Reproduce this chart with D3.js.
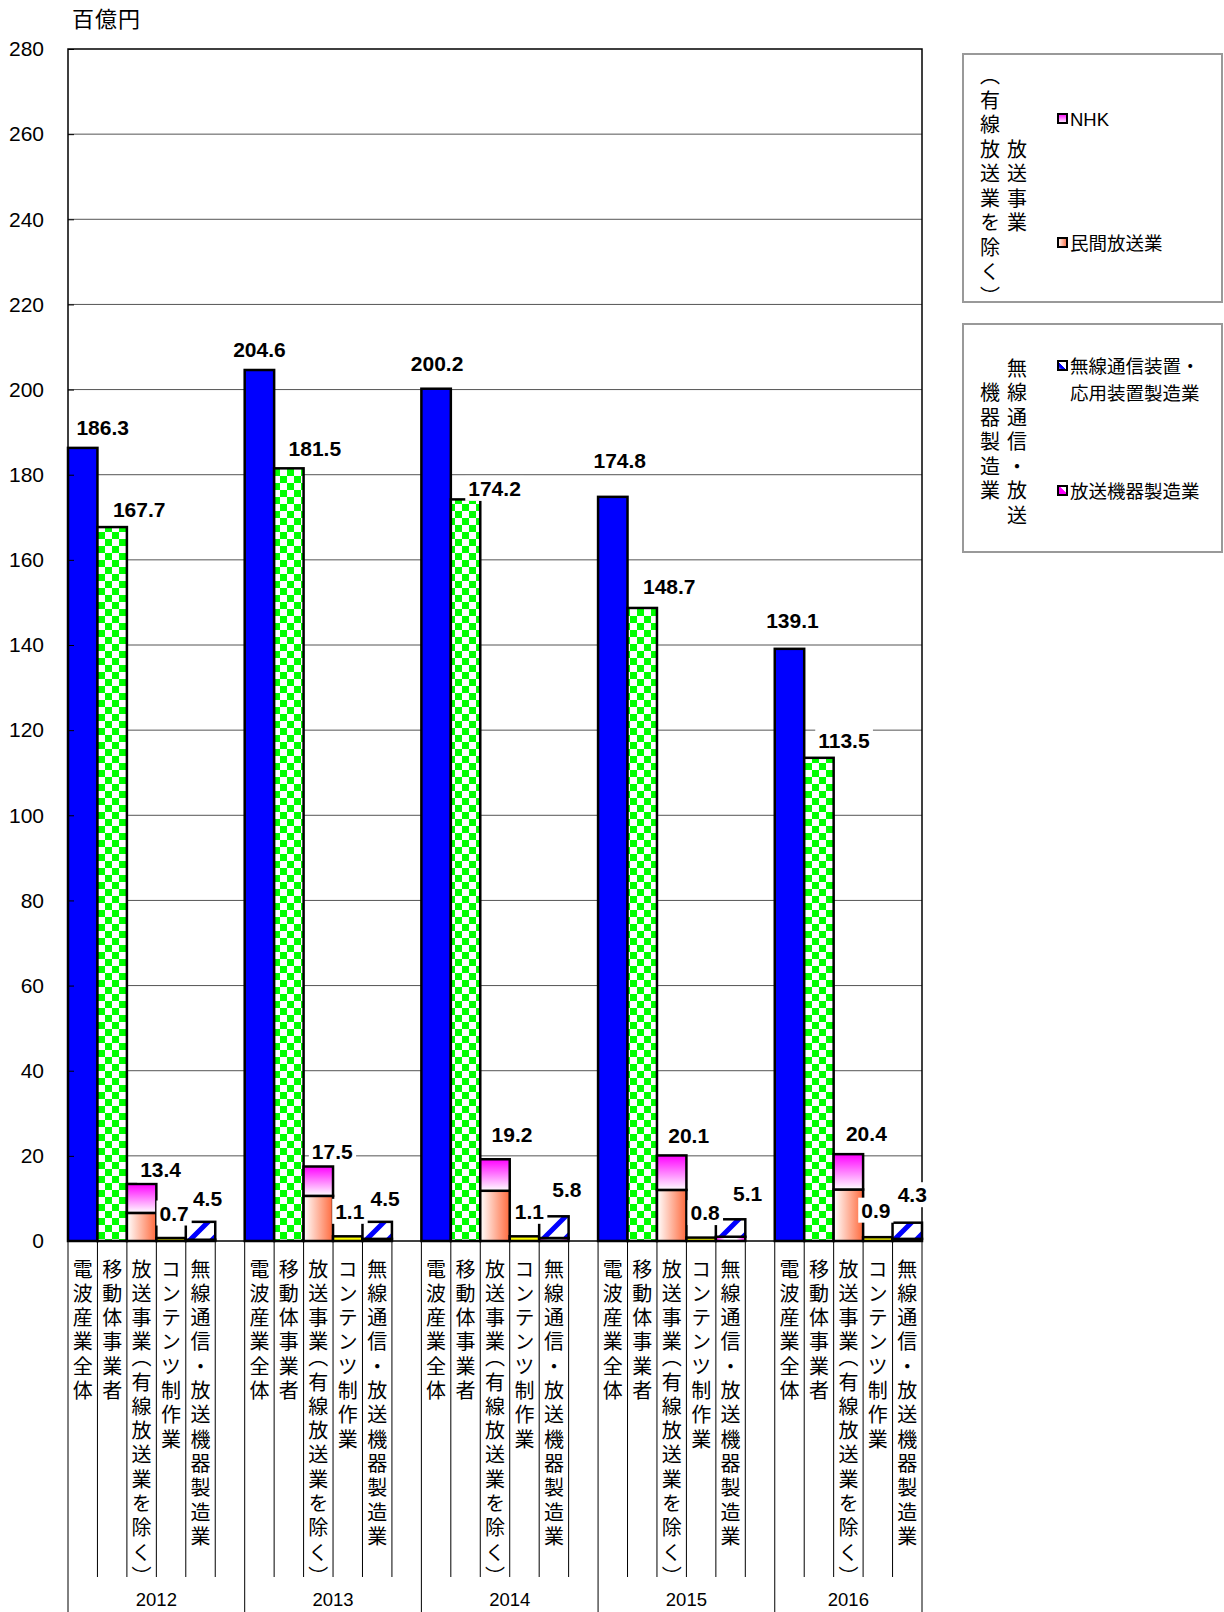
<!DOCTYPE html>
<html>
<head>
<meta charset="utf-8">
<script src="https://cdn.jsdelivr.net/npm/d3@7"></script>
<style>
  body { margin: 0; background: #fff; }
  svg { display: block; font-family: "Liberation Sans", Arial, "Noto Sans CJK JP", sans-serif; }
  .vt { writing-mode: vertical-rl; font-family: "Noto Sans CJK JP", sans-serif; }
</style>
</head>
<body>
<div id="chart"></div>
<script>
// 電波関連産業の売上高（百億円）
var years = ["2012", "2013", "2014", "2015", "2016"];
var categories = ["電波産業全体", "移動体事業者", "放送事業（有線放送業を除く）", "コンテンツ制作業", "無線通信・放送機器製造業"];
var industryTotal = [186.3, 204.6, 200.2, 174.8, 139.1];
var mobileCarriers = [167.7, 181.5, 174.2, 148.7, 113.5];
var privateBroadcast = [6.6, 10.6, 11.8, 12.0, 12.1];
var nhk = [6.8, 6.9, 7.4, 8.1, 8.3];
var contentProduction = [0.7, 1.1, 1.1, 0.8, 0.9];
var broadcastEquipment = [0.3, 0.5, 0.7, 1.0, 0.5];
var wirelessEquipment = [4.2, 4.0, 5.1, 4.1, 3.8];
var yTicks = [0, 20, 40, 60, 80, 100, 120, 140, 160, 180, 200, 220, 240, 260, 280];

// hand-placed label offsets (px) as in the original sheet: [dx from bar centre, height above bar top]
var labelNudge = [
  [[20, 20], [0, 20], [1, 25], [7, 36], [3, 28]],
  [[27, 18], [26, 20], [29, 11], [27, 21], [25, 17]],
  [[19, 14], [14, 15], [17, 25], [17, 20], [18, 21]],
  [[3, 25], [2, 25], [5, 25], [4, 25], [-2, 27]],
  [[7, 23], [8, 23], [13, 27], [17, 26], [5, 28]]
];

var width = 1224, height = 1612;
var plot = {left: 68, right: 922, top: 49, bottom: 1241};
var slotsPerGroup = 6;
var nSlots = years.length * slotsPerGroup - 1;

var svg = d3.select("#chart").append("svg")
  .attr("width", width)
  .attr("height", height);

var defs = svg.append("defs");

var checker = defs.append("pattern").attr("id", "checker")
  .attr("patternUnits", "userSpaceOnUse").attr("width", 14).attr("height", 14);
checker.append("rect").attr("width", 14).attr("height", 14).attr("fill", "#fff");
checker.append("rect").attr("width", 7).attr("height", 7).attr("fill", "#00ff00");
checker.append("rect").attr("x", 7).attr("y", 7).attr("width", 7).attr("height", 7).attr("fill", "#00ff00");

var hatch = defs.append("pattern").attr("id", "hatch")
  .attr("patternUnits", "userSpaceOnUse").attr("width", 22).attr("height", 22);
hatch.append("rect").attr("width", 22).attr("height", 22).attr("fill", "#fff");
hatch.append("path").attr("d", "M-4,26 L26,-4 M-4,4 L4,-4 M18,26 L26,18")
  .attr("stroke", "#0000ff").attr("stroke-width", 5);

function linGrad(id, x1, y1, x2, y2, stops) {
  var g = defs.append("linearGradient").attr("id", id)
    .attr("x1", x1).attr("y1", y1).attr("x2", x2).attr("y2", y2);
  stops.forEach(function (s) {
    g.append("stop").attr("offset", s[0]).attr("stop-color", s[1]);
  });
}
linGrad("nhkGrad", 0, 0, 0, 1, [[0, "#ff00ff"], [1, "#ffffff"]]);
linGrad("privGrad", 0, 0, 1, 0, [[0, "#ffffff"], [1, "#ff6a3d"]]);
linGrad("equipGrad", 0, 0, 1, 0, [[0, "#ff00ff"], [0.3, "#ffffff"], [0.7, "#ffffff"], [1, "#ff00ff"]]);
linGrad("equipSwatch", 0, 1, 1, 0, [[0, "#ff00ff"], [0.55, "#ff00ff"], [0.6, "#ffffff"], [1, "#ffffff"]]);
linGrad("wirelessSwatch", 0, 1, 1, 0, [[0, "#ffffff"], [0.3, "#0000ff"], [0.45, "#0000ff"], [0.5, "#ffffff"], [1, "#ffffff"]]);

var x = d3.scaleBand()
  .domain(d3.range(nSlots))
  .range([plot.left, plot.right])
  .paddingInner(0).paddingOuter(0);

var y = d3.scaleLinear()
  .domain([0, 280])
  .range([plot.bottom, plot.top]);

// gridlines
svg.append("g").selectAll("line")
  .data(yTicks.filter(function (d) { return d > 0 && d < 280; }))
  .enter().append("line")
  .attr("x1", plot.left).attr("x2", plot.right)
  .attr("y1", function (d) { return y(d); })
  .attr("y2", function (d) { return y(d); })
  .attr("stroke", "#555").attr("stroke-width", 1);

// bar segments
var segments = [];
years.forEach(function (yr, g) {
  var base = g * slotsPerGroup;
  segments.push({slot: base, y0: 0, y1: industryTotal[g], fill: "#0000ff"});
  segments.push({slot: base + 1, y0: 0, y1: mobileCarriers[g], fill: "url(#checker)"});
  segments.push({slot: base + 2, y0: 0, y1: privateBroadcast[g], fill: "url(#privGrad)"});
  segments.push({slot: base + 2, y0: privateBroadcast[g], y1: privateBroadcast[g] + nhk[g], fill: "url(#nhkGrad)"});
  segments.push({slot: base + 3, y0: 0, y1: contentProduction[g], fill: "#ffff00"});
  segments.push({slot: base + 4, y0: 0, y1: broadcastEquipment[g], fill: "url(#equipGrad)"});
  segments.push({slot: base + 4, y0: broadcastEquipment[g], y1: broadcastEquipment[g] + wirelessEquipment[g], fill: "url(#hatch)"});
});

svg.append("g").selectAll("rect")
  .data(segments)
  .enter().append("rect")
  .attr("x", function (d) { return x(d.slot); })
  .attr("width", x.bandwidth())
  .attr("y", function (d) { return y(d.y1); })
  .attr("height", function (d) { return y(d.y0) - y(d.y1); })
  .attr("fill", function (d) { return d.fill; })
  .attr("stroke", "#000").attr("stroke-width", 2.5);

// plot frame
svg.append("rect")
  .attr("x", plot.left).attr("y", plot.top)
  .attr("width", plot.right - plot.left).attr("height", plot.bottom - plot.top)
  .attr("fill", "none").attr("stroke", "#000").attr("stroke-width", 1.5);

// y axis, ticks pointing inward
var yAxis = d3.axisLeft(y).tickValues(yTicks).tickSize(0).tickPadding(24);
var yg = svg.append("g").attr("transform", "translate(" + plot.left + ",0)").call(yAxis);
yg.select(".domain").remove();
yg.selectAll("text").attr("font-size", "21px").attr("fill", "#000")
  .attr("font-family", "Liberation Sans, Arial, sans-serif");
yg.selectAll(".tick").append("line")
  .attr("x1", 0).attr("x2", 6).attr("stroke", "#000").attr("stroke-width", 1);

svg.append("text")
  .attr("x", 72).attr("y", 27)
  .attr("font-size", "22px").attr("letter-spacing", "1px")
  .style("font-family", "'Noto Sans CJK JP', sans-serif")
  .text("百億円");

// data labels
var labelRows = [industryTotal, mobileCarriers,
  privateBroadcast.map(function (v, i) { return v + nhk[i]; }),
  contentProduction,
  wirelessEquipment.map(function (v, i) { return v + broadcastEquipment[i]; })];

var lg = svg.append("g");
years.forEach(function (yr, g) {
  labelRows.forEach(function (row, s) {
    var v = row[g];
    var nd = labelNudge[s][g];
    var cx = x(g * slotsPerGroup + s) + x.bandwidth() / 2 + nd[0];
    var cy = y(v) - nd[1];
    var grp = lg.append("g");
    var bg = grp.append("rect").attr("fill", "#fff");
    var t = grp.append("text")
      .attr("x", cx).attr("y", cy)
      .attr("text-anchor", "middle").attr("dominant-baseline", "central")
      .attr("font-size", "21px").attr("font-weight", "bold")
      .text(d3.format(".1f")(v));
    var bb = t.node().getBBox();
    bg.attr("x", bb.x - 3).attr("y", bb.y - 1).attr("width", bb.width + 6).attr("height", bb.height + 2);
  });
});

// vertical text; full-width brackets are set half-width like the original
function verticalText(sel, str, spacing) {
  var t = sel.append("text").attr("class", "vt").attr("letter-spacing", spacing + "px");
  var runs = str.match(/（|）|[^（）]+/g);
  runs.forEach(function (r) {
    var ts = t.append("tspan").text(r);
    if (r === "（") ts.attr("dy", -9);
  });
  return t;
}

// category axis (two levels)
var sepBottom = 1577;
var axisG = svg.append("g");
years.forEach(function (yr, g) {
  var base = g * slotsPerGroup;
  var gx0 = x(base);
  var gx1 = g === years.length - 1 ? plot.right : x(base + slotsPerGroup);
  axisG.append("line")
    .attr("x1", gx0).attr("x2", gx0).attr("y1", plot.bottom).attr("y2", height)
    .attr("stroke", "#000").attr("stroke-width", 1);
  for (var s = 1; s < slotsPerGroup; s++) {
    if (base + s >= nSlots) break;
    axisG.append("line")
      .attr("x1", x(base + s)).attr("x2", x(base + s))
      .attr("y1", plot.bottom).attr("y2", sepBottom)
      .attr("stroke", "#000").attr("stroke-width", 1);
  }
  categories.forEach(function (c, s) {
    verticalText(axisG, c, 4.3)
      .attr("x", x(base + s) + x.bandwidth() / 2)
      .attr("y", 1259)
      .attr("font-size", "20px");
  });
  axisG.append("text")
    .attr("x", (gx0 + gx1) / 2).attr("y", 1599)
    .attr("text-anchor", "middle").attr("dominant-baseline", "central")
    .attr("font-size", "18.5px")
    .text(yr);
});
axisG.append("line")
  .attr("x1", plot.right).attr("x2", plot.right).attr("y1", plot.bottom).attr("y2", height)
  .attr("stroke", "#000").attr("stroke-width", 1);

// legend
var legendBoxes = [
  {y0: 54, y1: 302, shift: 10, cols: ["（有線放送業を除く）", "放送事業"],
   items: [{lines: ["NHK"], cy: 119, fill: "url(#nhkGrad)"},
           {lines: ["民間放送業"], cy: 243, fill: "url(#privGrad)"}]},
  {y0: 324, y1: 552, shift: 6, cols: ["機器製造業", "無線通信・放送"],
   items: [{lines: ["無線通信装置・", "応用装置製造業"], cy: 366, fill: "url(#wirelessSwatch)"},
           {lines: ["放送機器製造業"], cy: 491, fill: "url(#equipSwatch)"}]}
];
var legX0 = 963, legX1 = 1222, colX = [990, 1017];
var leg = svg.append("g");
legendBoxes.forEach(function (b) {
  leg.append("rect")
    .attr("x", legX0).attr("y", b.y0)
    .attr("width", legX1 - legX0).attr("height", b.y1 - b.y0)
    .attr("fill", "#fff").attr("stroke", "#999").attr("stroke-width", 2);
  b.cols.forEach(function (c, i) {
    leg.append("text").attr("class", "vt")
      .attr("x", colX[i]).attr("y", (b.y0 + b.y1) / 2 + b.shift)
      .attr("text-anchor", "middle")
      .attr("font-size", "20px").attr("letter-spacing", "4.5px")
      .text(c);
  });
  b.items.forEach(function (it) {
    leg.append("rect")
      .attr("x", 1058).attr("y", it.cy - 5).attr("width", 9).attr("height", 9)
      .attr("fill", it.fill).attr("stroke", "#000").attr("stroke-width", 2);
    it.lines.forEach(function (ln, k) {
      leg.append("text")
        .attr("x", 1070).attr("y", it.cy + k * 27)
        .attr("dominant-baseline", "central")
        .attr("font-size", "18.5px")
        .text(ln);
    });
  });
});
</script>
</body>
</html>
